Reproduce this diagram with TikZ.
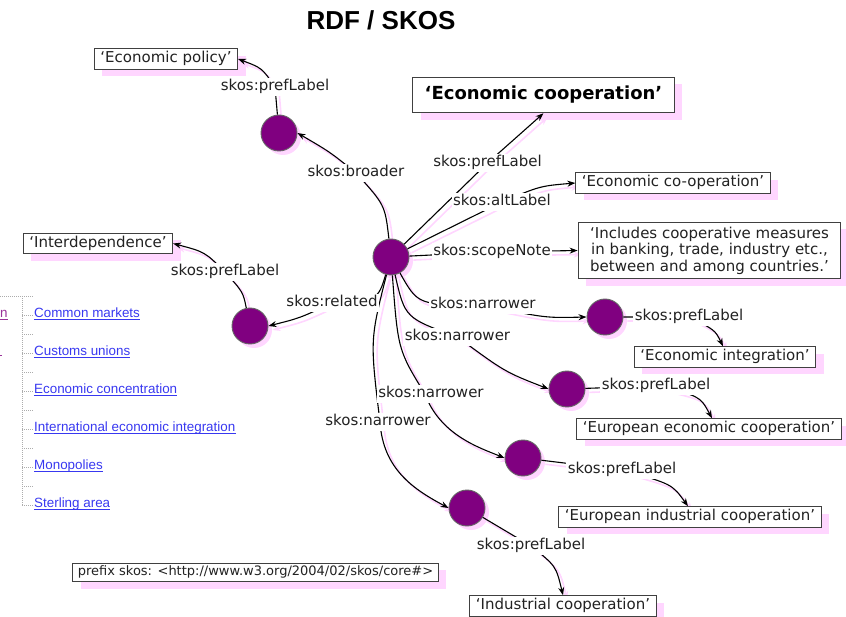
\documentclass[tikz,border=0pt]{standalone}
\usepackage{fontspec}
\setmainfont{DejaVu Sans}
\newfontfamily\arialfont{Liberation Sans}
\usetikzlibrary{shadows,arrows.meta}

\definecolor{pinkshade}{HTML}{FFD6FF}
\definecolor{conceptfill}{HTML}{800080}
\definecolor{inkgray}{HTML}{222222}
\definecolor{linkblue}{HTML}{3838F0}
\definecolor{visitedlink}{HTML}{993399}

\pgfdeclarelayer{shade}
\pgfdeclarelayer{edges}
\pgfdeclarelayer{tags}
\pgfsetlayers{shade,main,edges,tags}

\tikzset{
  concept/.style={circle, fill=conceptfill, draw=black!60, line width=0.9pt,
    minimum size=36pt, inner sep=0pt,
    drop shadow={shadow xshift=4pt, shadow yshift=-4pt, fill=pinkshade, opacity=1}},
  literal/.style={rectangle, draw=black!75, line width=1pt, fill=white, text=inkgray,
    font=\fontsize{15pt}{16.5pt}\selectfont, inner xsep=6pt, inner ysep=3pt,
    text height=11pt, text depth=3.5pt,
    drop shadow={shadow xshift=8pt, shadow yshift=-7pt, fill=pinkshade, opacity=1}},
  prop/.style={fill=white, text=inkgray, font=\fontsize{15pt}{17pt}\selectfont,
    inner sep=1.5pt, text height=11pt, text depth=3.5pt},
  rel/.style={draw=black, line width=1.1pt, -{Stealth[length=8pt,width=6pt]}},
  relshade/.style={draw=pinkshade, line width=1.6pt, -{Stealth[length=8pt,width=6pt]},
    transform canvas={shift={(4pt,-4pt)}}},
  weblink/.style={inner sep=0pt, anchor=base west, text=linkblue,
    font=\arialfont\fontsize{13.4pt}{15pt}\selectfont},
  underl/.style={draw=linkblue, line width=1pt},
  treeline/.style={draw=gray!65, line width=0.9pt, dash pattern=on 1pt off 1pt},
}

% a relation: pink offset copy underneath, black arrow on top
\newcommand\drawrel[1]{%
  \begin{pgfonlayer}{shade}\draw[relshade] #1;\end{pgfonlayer}%
  \begin{pgfonlayer}{edges}\draw[rel] #1;\end{pgfonlayer}}

\begin{document}
\begin{tikzpicture}[x=1pt, y=-1pt]
\useasboundingbox (0,0) rectangle (846,617);

% title
\node[font=\arialfont\bfseries\fontsize{26pt}{30pt}\selectfont] (title) at (381,20) {RDF / SKOS};

% concept resources
\node[concept] (C)  at (391,257) {};
\node[concept] (B)  at (279,133) {};
\node[concept] (R)  at (250,326) {};
\node[concept] (N1) at (605,317) {};
\node[concept] (N2) at (567,389) {};
\node[concept] (N3) at (523,458) {};
\node[concept] (N4) at (467,508) {};

% literal values
\node[literal] (bPol)   at (166,59)  {‘Economic policy’};
\node[literal, font=\bfseries\fontsize{18pt}{20pt}\selectfont, text=black,
      inner xsep=12pt, inner ysep=9pt, text height=13pt, text depth=4.5pt]
      (bEC) at (543.5,95) {‘Economic cooperation’};
\node[literal] (bAlt)   at (673,183) {‘Economic co-operation’};
\node[literal, align=center, text height=, text depth=, inner xsep=12pt, inner ysep=4.5pt]
      (bScope) at (709.5,250.5) {‘Includes cooperative measures\\in banking, trade, industry etc.,\\between and among countries.’};
\node[literal] (bInter) at (98,243.5) {‘Interdependence’};
\node[literal] (bInt1)  at (725,357) {‘Economic integration’};
\node[literal] (bEur)   at (709,429) {‘European economic cooperation’};
\node[literal] (bEInd)  at (690,517) {‘European industrial cooperation’};
\node[literal] (bInd)   at (563,606) {‘Industrial cooperation’};
\node[literal, font=\fontsize{13pt}{15pt}\selectfont, text height=9.5pt, text depth=3pt,
      inner ysep=3pt, inner xsep=5pt]
      (bPre) at (255.5,572.5) {prefix skos: <http://www.w3.org/2004/02/skos/core\#>};

% property names
\begin{pgfonlayer}{tags}
\node[prop] (Lbr)  at (356,173) {skos:broader};
\node[prop] (LpB)  at (275,87)  {skos:prefLabel};
\node[prop] (LpC)  at (487.5,163) {skos:prefLabel};
\node[prop] (Lalt) at (502,202) {skos:altLabel};
\node[prop] (Lsc)  at (492,252) {skos:scopeNote};
\node[prop] (Lrel) at (332,303) {skos:related};
\node[prop] (LpR)  at (225,272) {skos:prefLabel};
\node[prop] (Ln1)  at (483,305) {skos:narrower};
\node[prop] (Ln2)  at (457.5,337) {skos:narrower};
\node[prop] (Ln3)  at (431,394) {skos:narrower};
\node[prop] (Ln4)  at (378,422) {skos:narrower};
\node[prop] (Lp1)  at (689,317) {skos:prefLabel};
\node[prop] (Lp2)  at (656,386) {skos:prefLabel};
\node[prop] (Lp3)  at (622,470) {skos:prefLabel};
\node[prop] (Lp4)  at (531,546) {skos:prefLabel};
\end{pgfonlayer}

% relations
\drawrel{(C) .. controls (385,205) .. (Lbr.center) .. controls (330,152) .. (B.east)}
\drawrel{(B) -- (LpB.center) .. controls (262,68) .. (bPol.east)}
\drawrel{(C) -- (LpC.center) -- (bEC.south)}
\drawrel{(C) -- (Lalt.center) .. controls (540,186) .. (bAlt.west)}
\drawrel{(C) -- (Lsc.center) -- (bScope.west)}
\drawrel{(C) .. controls (378,300) .. (Lrel.center) .. controls (300,318) .. (R.east)}
\drawrel{(R) .. controls (243,292) .. (LpR.center) .. controls (205,252) .. (bInter.east)}
\drawrel{(C) .. controls (418,305) .. (Ln1.center) .. controls (545,318) .. (N1.west)}
\drawrel{(C) .. controls (405,318) .. (Ln2.center) .. controls (505,372) .. (N2.west)}
\drawrel{(C) .. controls (398,350) .. ([xshift=-6pt]Ln3.center) .. controls (440,435) and (480,448) .. (N3.west)}
\drawrel{(C) .. controls (370,340) .. ([xshift=2pt]Ln4.center) .. controls (383,470) and (415,490) .. (N4.west)}
\drawrel{(N1) -- (Lp1.center) .. controls (715,330) .. ([xshift=-2pt]bInt1.north)}
\drawrel{(N2) -- (Lp2.center) .. controls (700,396) .. ([xshift=3pt]bEur.north)}
\drawrel{(N3) -- (Lp3.center) .. controls (672,484) .. ([xshift=-2pt]bEInd.north)}
\drawrel{(N4) -- (Lp4.center) .. controls (556,566) .. (bInd.north)}

% narrower-term list at the left
\draw[treeline] (0,296) -- (33,296);
\draw[treeline] (22,296) -- (22,506);
\foreach \k in {0,...,5} {
  \draw[treeline] (22,315+38*\k) -- (33,315+38*\k);
}
\foreach \k in {0,...,4} {
  \draw[treeline] (22,334+38*\k) -- (33,334+38*\k);
}
\node[weblink] (w1) at (34,317.5) {Common markets};
\node[weblink] (w2) at (34,355.5) {Customs unions};
\node[weblink] (w3) at (34,393.5) {Economic concentration};
\node[weblink] (w4) at (34,431.5) {International economic integration};
\node[weblink] (w5) at (34,469.5) {Monopolies};
\node[weblink] (w6) at (34,507.5) {Sterling area};
\foreach \w in {w1,w2,w3,w4,w5,w6} {
  \draw[underl] ([yshift=-2pt]\w.base west) -- ([yshift=-2pt]\w.base east);
}
\node[weblink, text=visitedlink] (w0) at (0,317.5) {n};
\draw[draw=visitedlink, line width=1pt] ([yshift=-2pt]w0.base west) -- ([yshift=-2pt]w0.base east);
\draw[draw=visitedlink, line width=1pt] (0,356) -- (2,356);
\end{tikzpicture}
\end{document}
